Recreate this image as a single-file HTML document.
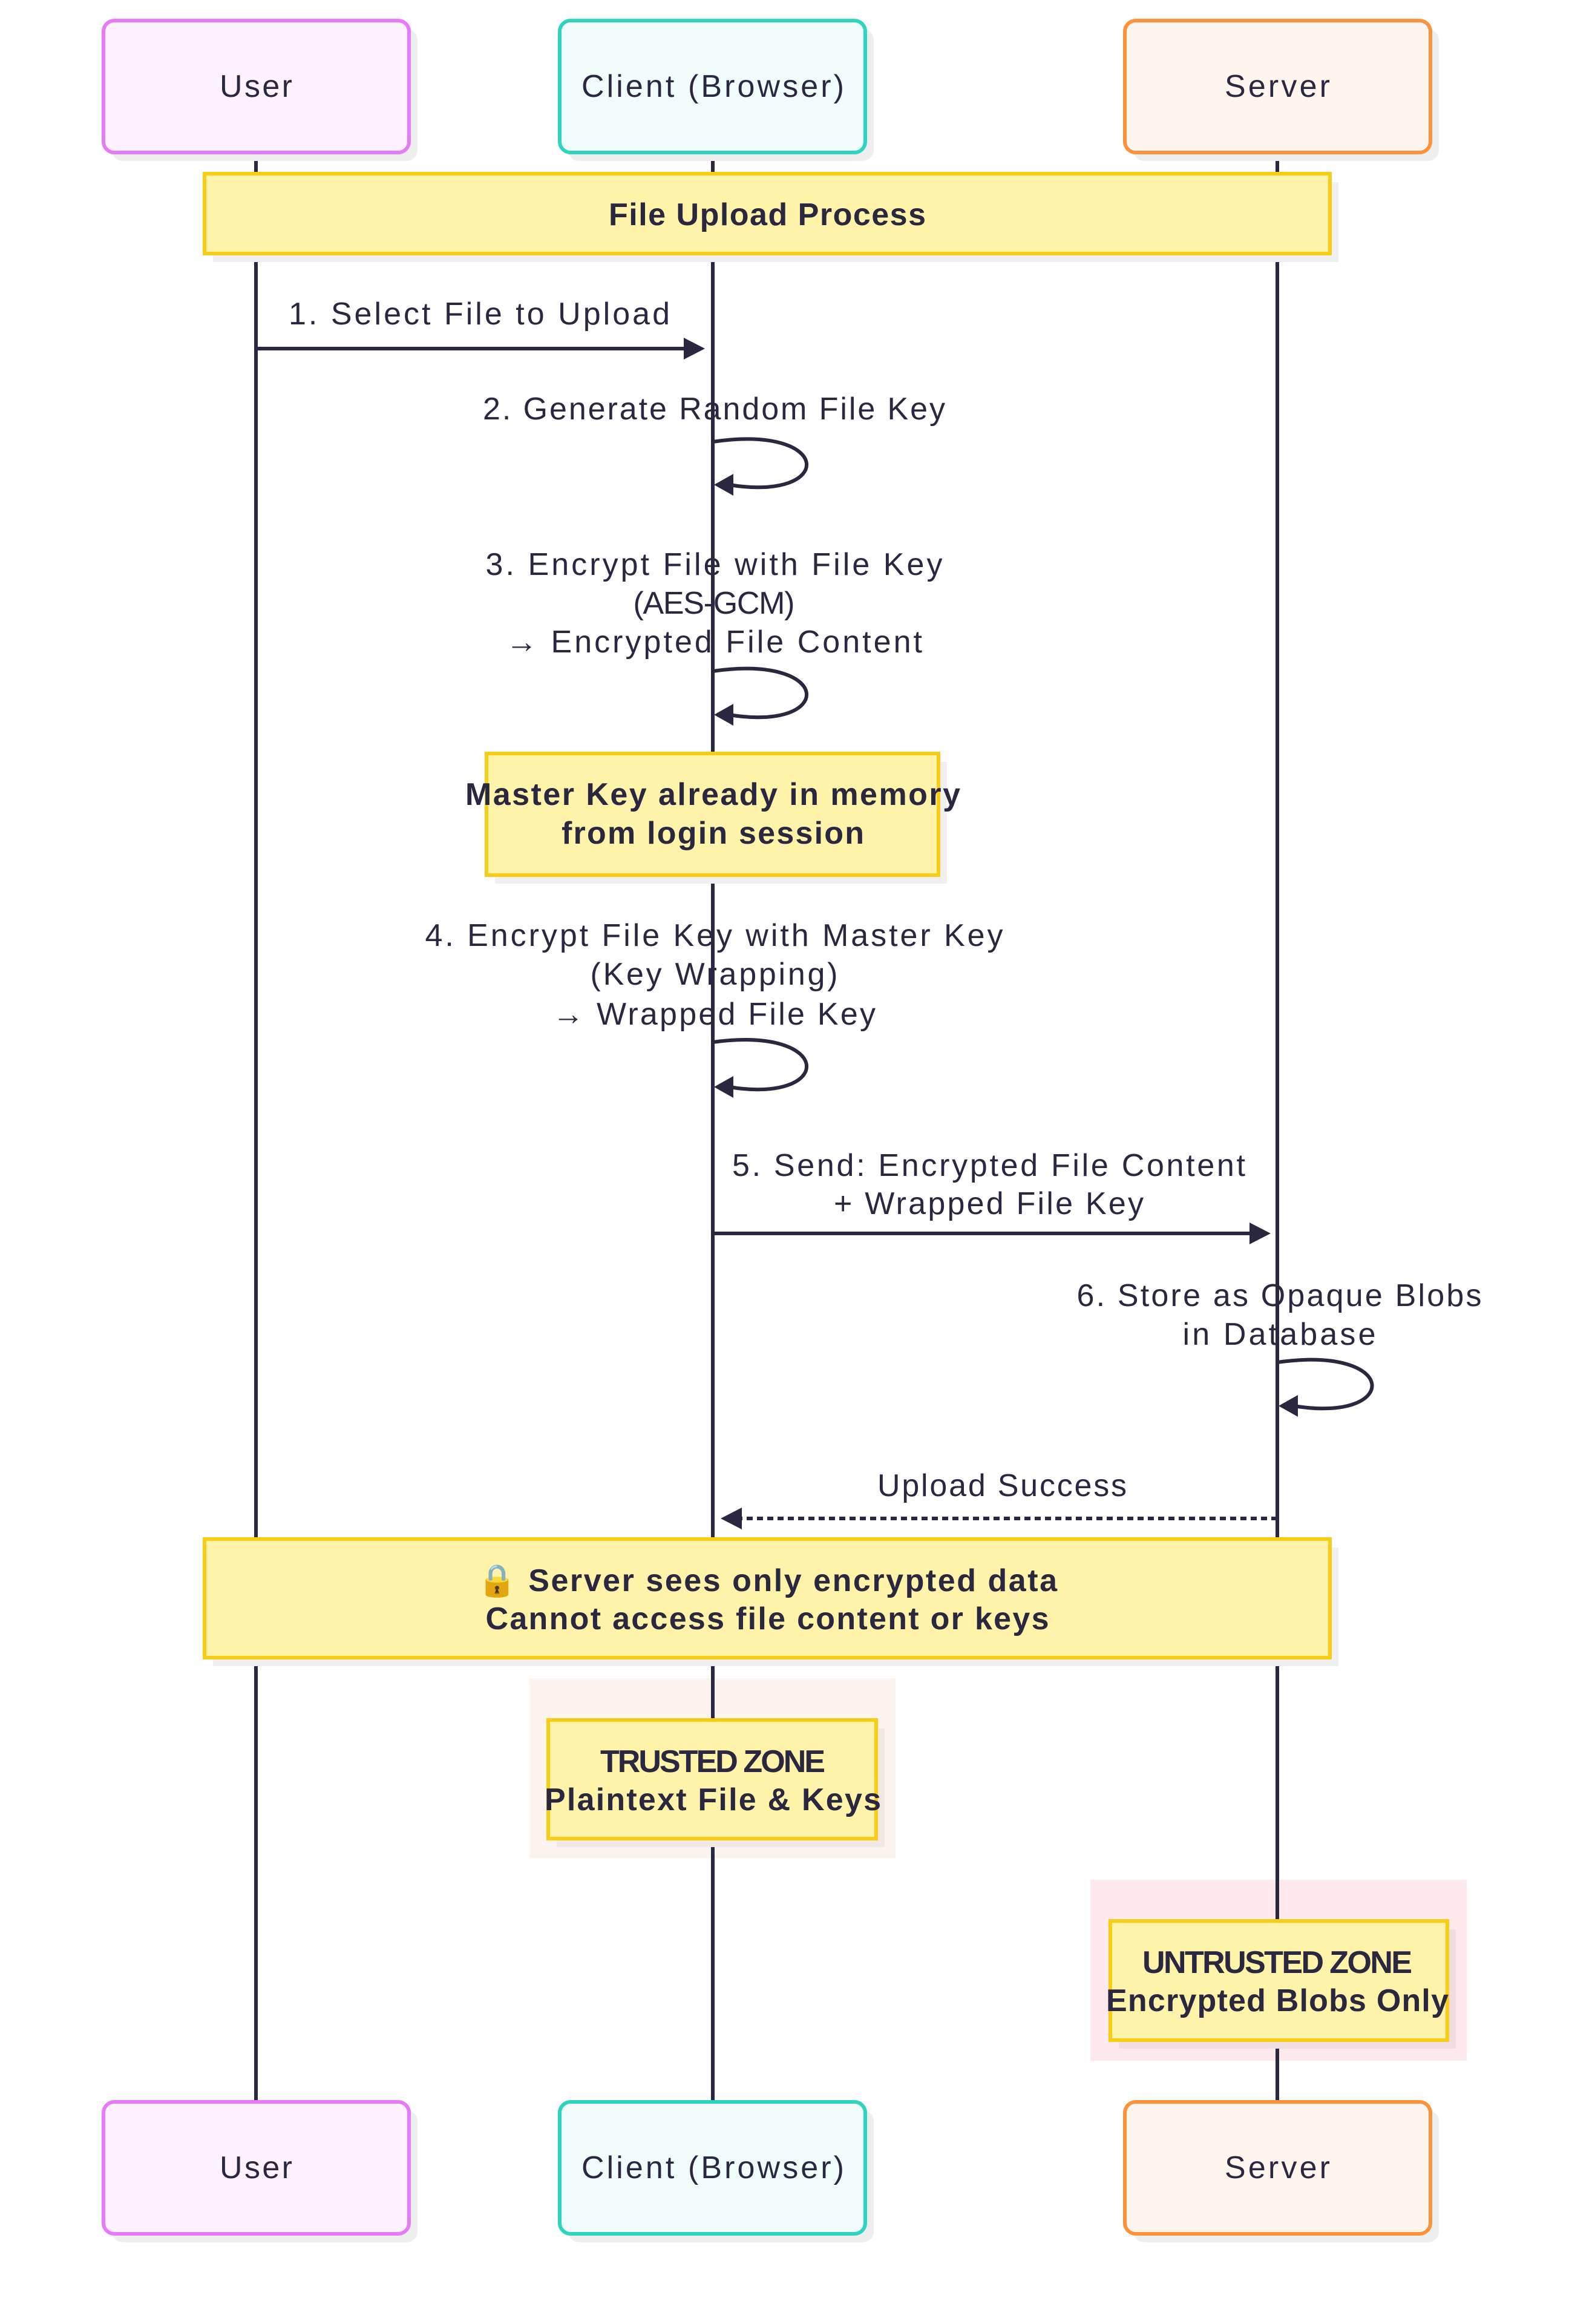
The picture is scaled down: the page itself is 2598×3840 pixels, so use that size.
<!DOCTYPE html>
<html><head><meta charset="utf-8"><style>
html,body{margin:0;padding:0;background:#fff}
svg{display:block}
text{font-family:"Liberation Sans","DejaVu Sans",sans-serif;fill:#2a2740;text-anchor:middle;dominant-baseline:central}
.m{font-size:52px}
.b{font-size:52px;font-weight:bold}
</style></head><body>
<svg width="2598" height="3840" viewBox="0 0 2598 3840" xmlns="http://www.w3.org/2000/svg">
<defs>
<marker id="ah" viewBox="0 0 10 10" refX="9" refY="5" markerWidth="5" markerHeight="5" markerUnits="userSpaceOnUse" orient="auto" style="overflow:visible">
</marker>
</defs>
<!-- zone backgrounds -->
<rect x="875" y="2773" width="605" height="297" fill="#fdf3ee"/>
<rect x="1802" y="3106" width="622" height="299" fill="#fde9ec"/>
<!-- lifelines -->
<g stroke="#2a2740" stroke-width="6">
<line x1="423" y1="255" x2="423" y2="3473"/>
<line x1="1178" y1="255" x2="1178" y2="3473"/>
<line x1="2111" y1="255" x2="2111" y2="3473"/>
</g>
<!-- actor boxes -->
<g stroke-width="6">
<rect x="185" y="48" width="505" height="218" rx="18" fill="#eee" stroke="none"/>
<rect x="171" y="34" width="505" height="218" rx="18" fill="#fdf2fe" stroke="#e879f9"/>
<rect x="939" y="48" width="505" height="218" rx="18" fill="#eee" stroke="none"/>
<rect x="925" y="34" width="505" height="218" rx="18" fill="#effcf9" stroke="#2dd4bf"/>
<rect x="1873" y="48" width="505" height="218" rx="18" fill="#eee" stroke="none"/>
<rect x="1859" y="34" width="505" height="218" rx="18" fill="#fef6ee" stroke="#fb923c"/>
<rect x="185" y="3487" width="505" height="218" rx="18" fill="#eee" stroke="none"/>
<rect x="171" y="3473" width="505" height="218" rx="18" fill="#fdf2fe" stroke="#e879f9"/>
<rect x="939" y="3487" width="505" height="218" rx="18" fill="#eee" stroke="none"/>
<rect x="925" y="3473" width="505" height="218" rx="18" fill="#effcf9" stroke="#2dd4bf"/>
<rect x="1873" y="3487" width="505" height="218" rx="18" fill="#eee" stroke="none"/>
<rect x="1859" y="3473" width="505" height="218" rx="18" fill="#fef6ee" stroke="#fb923c"/>
</g>
<text class="m" x="423" y="143" textLength="120">User</text>
<text class="m" x="1178" y="143" textLength="434">Client (Browser)</text>
<text class="m" x="2111" y="143" textLength="174">Server</text>
<text class="m" x="423" y="3582" textLength="120">User</text>
<text class="m" x="1178" y="3582" textLength="434">Client (Browser)</text>
<text class="m" x="2111" y="3582" textLength="174">Server</text>
<!-- notes -->
<g stroke="#facc15" stroke-width="6">
<rect x="352" y="301" width="1860" height="132" fill="#f0f0f0" stroke="none"/>
<rect x="338" y="287" width="1860" height="132" fill="#fef3a8"/>
<rect x="818" y="1259" width="747" height="201" fill="#f0f0f0" stroke="none"/>
<rect x="804" y="1245" width="747" height="201" fill="#fef3a8"/>
<rect x="352" y="2557" width="1860" height="196" fill="#f0f0f0" stroke="none"/>
<rect x="338" y="2543" width="1860" height="196" fill="#fef3a8"/>
<rect x="920" y="2856" width="542" height="196" fill="#f0e8e3" stroke="none"/>
<rect x="906" y="2842" width="542" height="196" fill="#fef3a8"/>
<rect x="1849" y="3188" width="557" height="197" fill="#efdde0" stroke="none"/>
<rect x="1835" y="3174" width="557" height="197" fill="#fef3a8"/>
</g>
<text class="b" x="1268" y="355" textLength="524">File Upload Process</text>
<text class="b" x="1178" y="1313" textLength="818">Master Key already in memory</text>
<text class="b" x="1178" y="1377" textLength="500">from login session</text>
<text class="b" x="1268" y="2612" textLength="958">🔒 Server sees only encrypted data</text>
<text class="b" x="1268" y="2675" textLength="931">Cannot access file content or keys</text>
<text class="b" x="1178" y="2911" textLength="372">TRUSTED ZONE</text>
<text class="b" x="1178" y="2974" textLength="556">Plaintext File &amp; Keys</text>
<text class="b" x="2111" y="3243" textLength="446">UNTRUSTED ZONE</text>
<text class="b" x="2111" y="3306" textLength="566">Encrypted Blobs Only</text>
<!-- messages -->
<text class="m" x="792" y="519" textLength="630">1. Select File to Upload</text>
<line x1="423" y1="576" x2="1135" y2="576" stroke="#2a2740" stroke-width="6"/>
<polygon points="1165,576 1130,558 1130,594" fill="#2a2740"/>

<text class="m" x="1180" y="676" textLength="764">2. Generate Random File Key</text>
<path d="M1178,730 C1380,700 1380,830 1205,801" fill="none" stroke="#2a2740" stroke-width="6"/>
<polygon points="1180,801 1212,783 1212,819" fill="#2a2740"/>

<text class="m" x="1180" y="933" textLength="755">3. Encrypt File with File Key</text>
<text class="m" x="1180" y="997" textLength="267">(AES-GCM)</text>
<text class="m" x="1180" y="1061" textLength="688">→ Encrypted File Content</text>
<path d="M1178,1109 C1380,1080 1380,1210 1205,1181" fill="none" stroke="#2a2740" stroke-width="6"/>
<polygon points="1180,1181 1212,1163 1212,1199" fill="#2a2740"/>

<text class="m" x="1180" y="1546" textLength="955">4. Encrypt File Key with Master Key</text>
<text class="m" x="1180" y="1610" textLength="409">(Key Wrapping)</text>
<text class="m" x="1180" y="1676" textLength="534">→ Wrapped File Key</text>
<path d="M1178,1722 C1380,1694 1380,1825 1205,1796" fill="none" stroke="#2a2740" stroke-width="6"/>
<polygon points="1180,1796 1212,1778 1212,1814" fill="#2a2740"/>

<text class="m" x="1634" y="1926" textLength="848">5. Send: Encrypted File Content</text>
<text class="m" x="1634" y="1989" textLength="512">+ Wrapped File Key</text>
<line x1="1178" y1="2038" x2="2070" y2="2038" stroke="#2a2740" stroke-width="6"/>
<polygon points="2100,2038 2065,2020 2065,2056" fill="#2a2740"/>

<text class="m" x="2114" y="2141" textLength="669">6. Store as Opaque Blobs</text>
<text class="m" x="2114" y="2205" textLength="319">in Database</text>
<path d="M2111,2251 C2315,2222 2315,2352 2138,2323" fill="none" stroke="#2a2740" stroke-width="6"/>
<polygon points="2113,2323 2145,2305 2145,2341" fill="#2a2740"/>

<text class="m" x="1656" y="2455" textLength="412">Upload Success</text>
<line x1="2111" y1="2509" x2="1220" y2="2509" stroke="#2a2740" stroke-width="6" stroke-dasharray="10,7"/>
<polygon points="1191,2509 1226,2491 1226,2527" fill="#2a2740"/>
</svg>
</body></html>
